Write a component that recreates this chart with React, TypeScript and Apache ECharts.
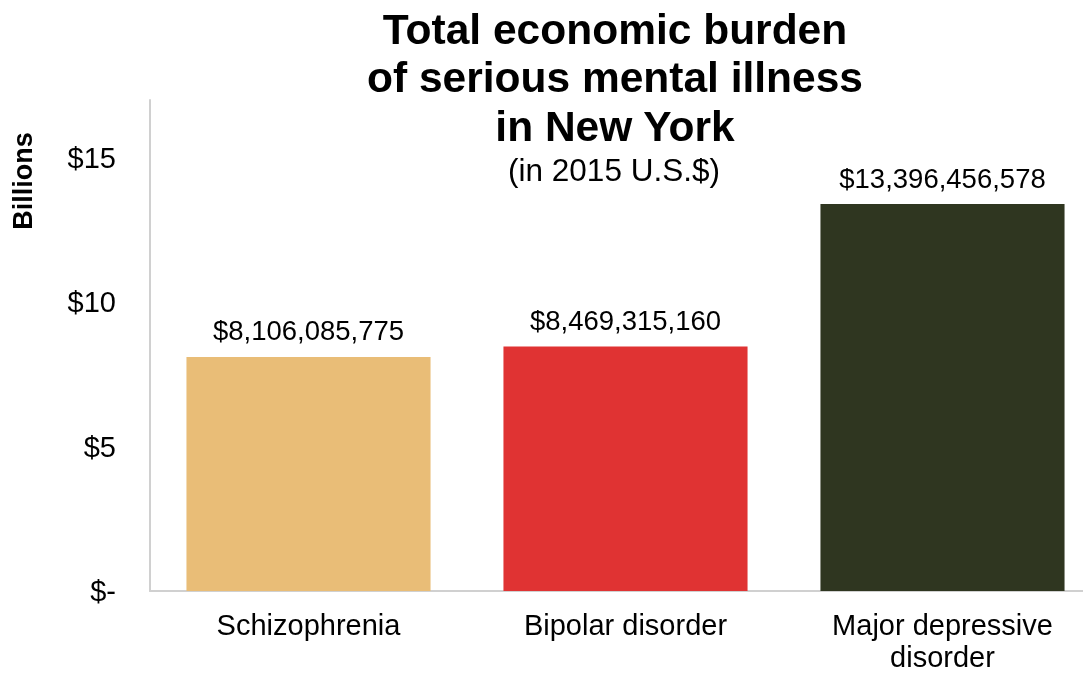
import React, { useEffect, useRef } from "react";
import * as echarts from "echarts";

const categories = ["Schizophrenia", "Bipolar disorder", "Major depressive\ndisorder"];
const valuesBillions = [8.106085775, 8.469315160, 13.396456578];
const valueLabels = ["$8,106,085,775", "$8,469,315,160", "$13,396,456,578"];
const barColors = ["#E9BD77", "#E03333", "#2F3620"];
const titleLines = ["Total economic burden", "of serious mental illness", "in New York"];
const subtitle = "(in 2015 U.S.$)";
const yAxisTitle = "Billions";

const FONT = "'Liberation Sans', Arial, sans-serif";

export default function App() {
  const ref = useRef<HTMLDivElement>(null);
  useEffect(() => {
    if (!ref.current) return;
    const chart = echarts.init(ref.current, null, { renderer: "svg" });
    chart.setOption({
      animation: false,
      textStyle: { fontFamily: FONT },
      title: [
        {
          text: titleLines.join("\n"),
          left: 610,
          top: 0,
          textAlign: "center",
          textStyle: { fontFamily: FONT, fontSize: 42.5, fontWeight: "bold", color: "#000", lineHeight: 48.5 },
        },
        {
          text: subtitle,
          left: 609,
          top: 149,
          textAlign: "center",
          textStyle: { fontFamily: FONT, fontSize: 31.5, fontWeight: "normal", color: "#000" },
        },
      ],
      graphic: [
        {
          type: "text",
          x: 23,
          y: 181,
          rotation: Math.PI / 2,
          style: {
            text: yAxisTitle,
            font: `bold 27px ${FONT}`,
            fill: "#000",
            textAlign: "center",
            textVerticalAlign: "middle",
          },
        },
      ],
      grid: { left: 150, top: 100, width: 951, bottom: 82, containLabel: false, outerBoundsMode: "none" },
      xAxis: {
        type: "category",
        data: categories,
        axisLine: { lineStyle: { color: "#d0d0d0", width: 2 } },
        axisTick: { show: false },
        axisLabel: { color: "#000", fontSize: 29, fontFamily: FONT, margin: 18, lineHeight: 32, interval: 0 },
      },
      yAxis: {
        type: "value",
        min: 0,
        max: 17,
        interval: 5,
        splitLine: { show: false },
        axisLine: { show: true, lineStyle: { color: "#d0d0d0", width: 2 } },
        axisTick: { show: false },
        axisLabel: {
          color: "#000",
          fontSize: 29,
          fontFamily: FONT,
          margin: 34,
          showMaxLabel: false,
          formatter: (v: number) => (v % 5 !== 0 ? "" : v === 0 ? "$-" : "$" + v),
        },
      },
      series: [
        {
          type: "bar",
          barCategoryGap: "23%",
          data: valuesBillions.map((v, i) => ({ value: v, itemStyle: { color: barColors[i] } })),
          label: {
            show: true,
            position: "top",
            distance: 12,
            color: "#000",
            fontSize: 27.5,
            fontFamily: FONT,
            formatter: (p: any) => valueLabels[p.dataIndex],
          },
        },
      ],
    });
    return () => chart.dispose();
  }, []);
  return <div ref={ref} style={{ position: "fixed", left: 0, top: 0, width: 1110, height: 673 }} />;
}
